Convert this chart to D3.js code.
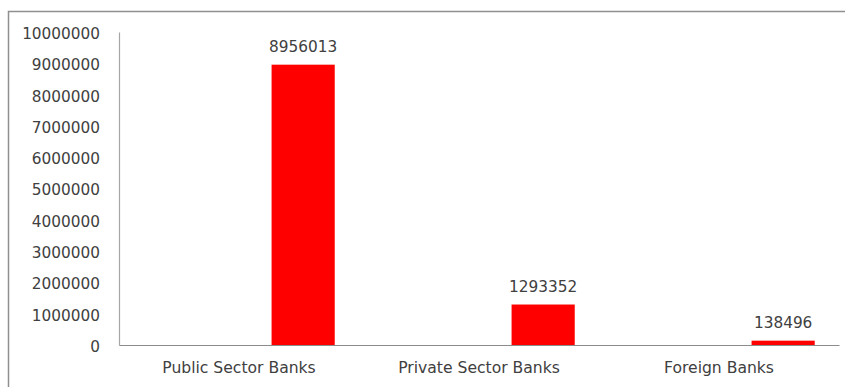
<!DOCTYPE html>
<html>
<head>
<meta charset="utf-8">
<script src="https://cdn.jsdelivr.net/npm/d3@7/dist/d3.min.js"></script>
<style>
  html, body { margin: 0; padding: 0; background: #ffffff; }
  svg { display: block; }
  text { font-family: "DejaVu Sans", Verdana, sans-serif; fill: #404040; }
</style>
</head>
<body>
<svg id="chart" width="845" height="387"></svg>
<script>
// Number of accounts by bank group
const categories = ["Public Sector Banks", "Private Sector Banks", "Foreign Banks"];
const values = [8956013, 1293352, 138496];
const yTicks = [0, 1000000, 2000000, 3000000, 4000000, 5000000, 6000000, 7000000, 8000000, 9000000, 10000000];
// Each category group holds three series slots; the values sit in the last one
const slots = ["s1", "s2", "s3"];
const valueSlot = "s3";

const svg = d3.select("#chart");
const margin = { left: 119, right: 6, top: 32, bottom: 42 };
const W = 845, H = 387;

// Outer chart frame
svg.append("rect")
  .attr("x", 8.5).attr("y", 11.5)
  .attr("width", 860).attr("height", 400)
  .attr("fill", "#ffffff")
  .attr("stroke", "#8f8f8f")
  .attr("stroke-width", 1.5);

const x = d3.scaleBand()
  .domain(categories)
  .range([margin.left, W - margin.right])
  .paddingInner(0).paddingOuter(0);

const xInner = d3.scaleBand()
  .domain(slots)
  .range([0, x.bandwidth()])
  .paddingInner(0)
  .paddingOuter(0.4);

const y = d3.scaleLinear()
  .domain([0, 10000000])
  .range([H - margin.bottom, margin.top]);

// Y axis labels
const yAxis = d3.axisLeft(y)
  .tickValues(yTicks)
  .tickFormat(d3.format("d"))
  .tickSize(0)
  .tickPadding(19);
const gy = svg.append("g")
  .attr("transform", `translate(${margin.left},0)`)
  .call(yAxis);
gy.select(".domain").attr("stroke", "#a6a6a6").attr("stroke-width", 1.2);
gy.selectAll("text")
  .style("font-size", "15.3px")
  .attr("dy", "0.42em")
  .attr("fill", "#404040");

// Bars
svg.append("g").selectAll("rect")
  .data(categories)
  .join("rect")
  .attr("x", (d) => x(d) + xInner(valueSlot) + 1)
  .attr("width", xInner.bandwidth())
  .attr("y", (d, i) => y(values[i]))
  .attr("height", (d, i) => y(0) - y(values[i]))
  .attr("fill", "#ff0000");

// Value labels
svg.append("g").selectAll("text")
  .data(categories)
  .join("text")
  .attr("x", (d) => x(d) + xInner(valueSlot) + 1 + xInner.bandwidth() / 2)
  .attr("y", (d, i) => y(values[i]) - 13)
  .attr("text-anchor", "middle")
  .style("font-size", "15.3px")
  .text((d, i) => values[i]);

// X axis baseline and category labels
const xAxis = d3.axisBottom(x).tickSize(0).tickPadding(17);
const gx = svg.append("g")
  .attr("transform", `translate(0,${y(0)})`)
  .call(xAxis);
gx.select(".domain").attr("stroke", "#8c8c8c").attr("stroke-width", 1.2);
gx.selectAll("text")
  .style("font-size", "15.6px")
  .attr("fill", "#404040");
</script>
</body>
</html>
